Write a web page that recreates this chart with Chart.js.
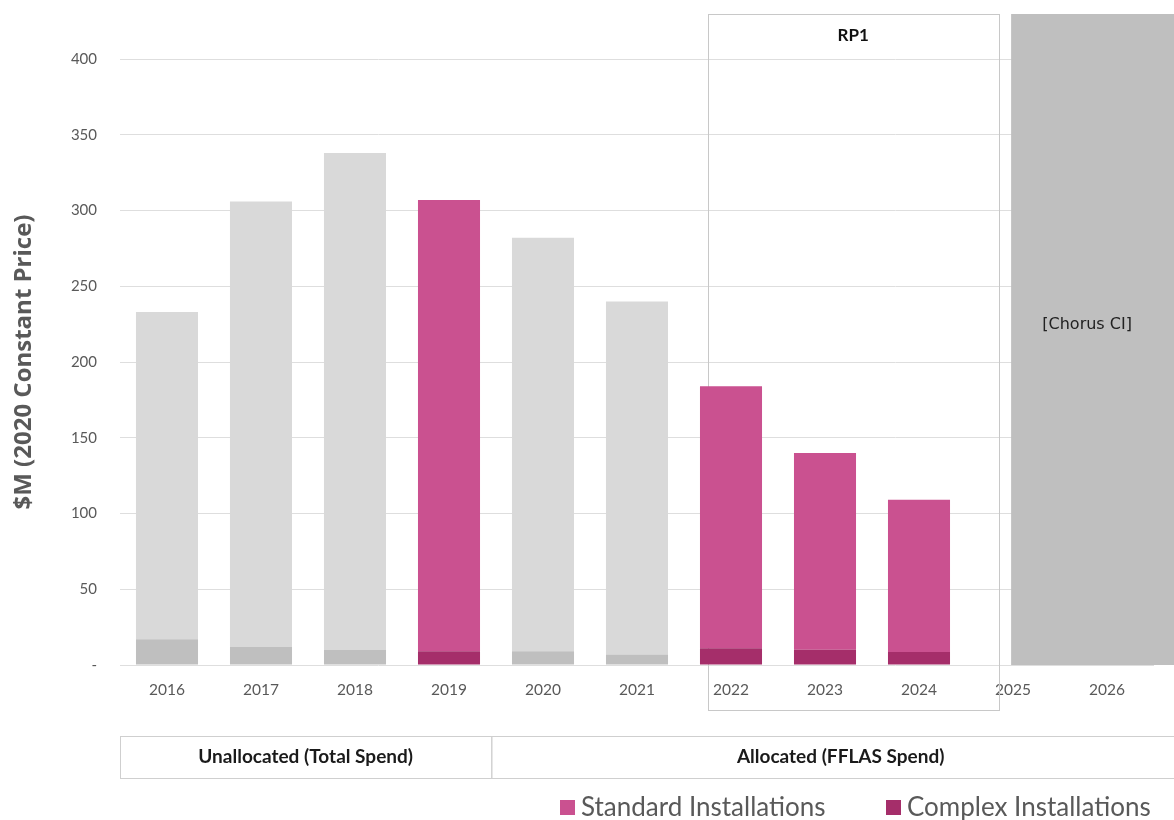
<!DOCTYPE html>
<html>
<head>
<meta charset="utf-8">
<script src="https://cdn.jsdelivr.net/npm/chart.js@4"></script>
<style>
  html, body { margin: 0; padding: 0; background: #fff; }
  #wrap { width: 1174px; height: 820px; }
</style>
</head>
<body>
<div id="wrap"><canvas id="myChart"></canvas></div>
<script>
const years = ["2016", "2017", "2018", "2019", "2020", "2021", "2022", "2023", "2024", "2025", "2026"];
const standard = [216, 294, 328, 298, 273, 233, 173, 130, 100.5, null, null];
const complex = [17, 12, 10, 9, 9, 7, 11, 10, 8.5, null, null];
// years shown in colour (the rest are grey / unallocated)
const highlighted = ["2019", "2022", "2023", "2024"];

const pink = "#CA5190";
const darkPink = "#A52E6A";
const lightGrey = "#D9D9D9";
const midGrey = "#BFBFBF";

const standardColors = years.map(y => highlighted.includes(y) ? pink : lightGrey);
const complexColors = years.map(y => highlighted.includes(y) ? darkPink : midGrey);

const overlay = {
  id: "overlay",
  beforeDatasetsDraw(chart) {
    const ctx = chart.ctx;
    const x = chart.scales.x;
    const y = chart.scales.y;
    const w = x.getPixelForValue(1) - x.getPixelForValue(0);
    const top = chart.chartArea.top - 45;
    const zero = y.getPixelForValue(0);

    // RP1 box
    const rpL = x.getPixelForValue(6) - 0.25 * w;
    const rpR = x.getPixelForValue(8) + 0.85 * w;
    ctx.save();
    ctx.strokeStyle = "#c8c8c8";
    ctx.lineWidth = 1;
    ctx.strokeRect(Math.round(rpL) + 0.5, Math.round(top) + 0.5, Math.round(rpR - rpL), 696);
    ctx.fillStyle = "#111";
    ctx.font = "bold 17px Lato";
    ctx.textAlign = "center";
    ctx.textBaseline = "middle";
    ctx.fillText("RP1", (rpL + rpR) / 2, top + 22);

    // Chorus CI block
    const gL = x.getPixelForValue(8) + 0.98 * w;
    ctx.fillStyle = midGrey;
    ctx.fillRect(gL, top, chart.width - gL, zero - top);
    ctx.fillStyle = "#222";
    ctx.font = "16px 'DejaVu Sans'";
    ctx.fillText("[Chorus CI]", gL + 76, 325);

    // allocation table
    const tTop = 736, tH = 42;
    const left = chart.chartArea.left;
    const mid = x.getPixelForValue(3) + 0.45 * w;
    ctx.strokeStyle = "#cfcfcf";
    ctx.strokeRect(left + 0.5, tTop + 0.5, mid - left, tH);
    ctx.strokeRect(mid + 0.5, tTop + 0.5, chart.width - mid + 5, tH);
    ctx.fillStyle = "#1a1a1a";
    ctx.font = "bold 19px Lato";
    ctx.fillText("Unallocated (Total Spend)", (left + mid) / 2, tTop + tH / 2);
    ctx.fillText("Allocated (FFLAS Spend)", (mid + chart.width) / 2 + 8, tTop + tH / 2);

    // legend (standard first, then complex)
    const items = [chart.data.datasets[1], chart.data.datasets[0]];
    const colors = [pink, darkPink];
    const starts = [560, 886];
    ctx.font = "26px Lato";
    ctx.textAlign = "left";
    items.forEach((ds, i) => {
      ctx.fillStyle = colors[i];
      ctx.fillRect(starts[i], 800, 15, 15);
      ctx.fillStyle = "#595959";
      ctx.fillText(ds.label, starts[i] + 21, 808);
    });
    ctx.restore();
  }
};

const ctx = document.getElementById("myChart");

new Chart(ctx, {
  type: "bar",
  data: {
    labels: years,
    datasets: [
      {
        label: "Complex Installations",
        data: complex,
        backgroundColor: complexColors,
        barPercentage: 0.66,
        categoryPercentage: 1
      },
      {
        label: "Standard Installations",
        data: standard,
        backgroundColor: standardColors,
        barPercentage: 0.66,
        categoryPercentage: 1
      }
    ]
  },
  options: {
    responsive: true,
    maintainAspectRatio: false,
    animation: false,
    layout: { padding: { top: 59, right: 20, left: 10, bottom: 0 } },
    plugins: {
      tooltip: { enabled: false },
      legend: { display: false }
    },
    scales: {
      x: {
        stacked: true,
        grid: { display: false },
        border: { display: false },
        ticks: {
          font: { family: "Lato", size: 15.5 },
          color: "#595959",
          padding: 8,
          maxRotation: 0
        },
        afterFit(scale) { scale.height = 155; }
      },
      y: {
        stacked: true,
        min: 0,
        max: 400,
        border: { display: false },
        grid: { color: "#dedede", drawTicks: false },
        ticks: {
          stepSize: 50,
          font: { family: "Lato", size: 15 },
          color: "#595959",
          padding: 23,
          callback: v => v === 0 ? "-" : v
        },
        title: {
          display: true,
          text: "$M (2020 Constant Price)",
          font: { family: "Open Sans", size: 24, weight: "bold" },
          color: "#595959",
          padding: { top: 0, bottom: 18 }
        },
        afterFit(scale) { scale.width = 110; }
      }
    }
  },
  plugins: [overlay]
});
</script>
</body>
</html>
